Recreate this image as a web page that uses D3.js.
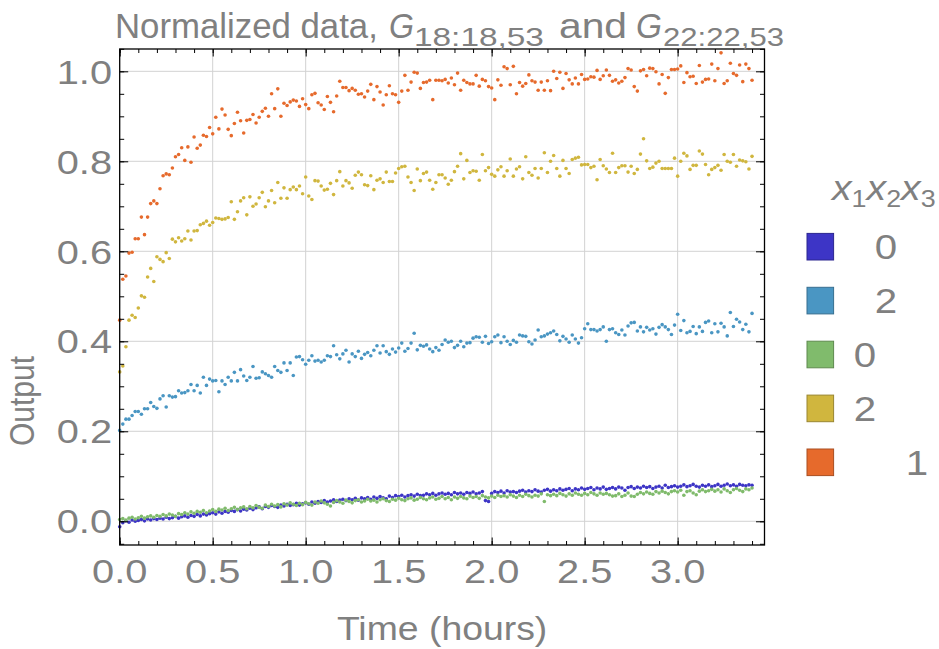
<!DOCTYPE html>
<html>
<head>
<meta charset="utf-8">
<script src="https://cdn.jsdelivr.net/npm/d3@7"></script>
<style>
  body { margin: 0; background: #ffffff; }
  text { font-family: "Liberation Sans", Arial, Helvetica, sans-serif; fill: #808080; }
</style>
</head>
<body>
<svg id="chart" width="939" height="649"></svg>
<script>
// Sample index: one reading per minute over the run
const minutes = d3.range(205);

// Normalized output of each construct, one value per minute
const indigoVals = [
  -.012,-.003,.001,-.002,.003,.000,.002,.004,.001,.005,
  .003,.006,.004,.007,.005,.009,.006,.008,.011,.007,
  .010,.012,.009,.013,.011,.015,.012,.016,.014,.017,
  .019,.016,.021,.018,.022,.020,.024,.022,.026,.023,
  .027,.025,.029,.026,.030,.032,.028,.033,.031,.035,
  .033,.031,.036,.034,.038,.035,.037,.040,.036,.039,
  .041,.038,.043,.040,.044,.042,.046,.043,.045,.048,
  .044,.047,.049,.046,.050,.048,.051,.047,.052,.050,
  .053,.049,.054,.051,.055,.052,.050,.056,.053,.057,
  .055,.058,.054,.057,.059,.056,.060,.057,.058,.061,
  .059,.062,.058,.061,.063,.060,.062,.059,.064,.061,
  .063,.060,.064,.062,.065,.061,.063,.066,.046,.044,
  .062,.066,.064,.067,.063,.068,.065,.066,.064,.067,
  .069,.065,.068,.066,.070,.067,.065,.069,.071,.067,
  .070,.068,.072,.069,.071,.073,.068,.072,.070,.074,
  .071,.073,.075,.070,.074,.072,.076,.071,.073,.075,
  .072,.076,.074,.069,.075,.077,.073,.076,.074,.078,
  .075,.077,.073,.076,.078,.074,.080,.075,.077,.079,
  .076,.078,.081,.077,.079,.082,.078,.076,.080,.078,
  .081,.077,.079,.082,.078,.080,.083,.079,.081,.078,
  .082,.080,.079,.081,.080
];
const steelVals = [
  .202,.216,.227,.227,.235,.244,.244,.238,.250,.250,
  .264,.255,.251,.272,.279,.254,.279,.276,.277,.290,
  .285,.286,.290,.304,.290,.302,.285,.320,.302,.316,
  .312,.313,.288,.312,.304,.320,.312,.331,.312,.337,
  .323,.313,.320,.344,.318,.319,.332,.328,.324,.320,
  .344,.335,.331,.352,.335,.352,.324,.365,.366,.359,
  .349,.358,.368,.356,.358,.354,.358,.368,.366,.390,
  .370,.361,.372,.380,.354,.372,.366,.378,.362,.371,
  .375,.368,.380,.390,.374,.390,.377,.371,.383,.376,
  .385,.396,.378,.384,.396,.418,.381,.391,.389,.392,
  .383,.377,.386,.380,.393,.403,.398,.400,.386,.391,
  .400,.388,.396,.397,.407,.410,.409,.398,.411,.395,
  .399,.410,.414,.397,.410,.400,.393,.402,.398,.414,
  .412,.411,.399,.394,.403,.425,.410,.412,.416,.419,
  .423,.415,.401,.411,.405,.398,.414,.405,.396,.408,
  .428,.439,.426,.426,.423,.426,.432,.400,.426,.428,
  .419,.415,.425,.414,.434,.441,.442,.423,.432,.421,
  .431,.425,.428,.416,.431,.437,.432,.426,.415,.436,
  .460,.424,.446,.419,.422,.433,.417,.432,.422,.442,
  .445,.419,.439,.421,.440,.432,.412,.464,.433,.449,
  .443,.426,.438,.421,.462
];
const greenVals = [
  .004,.006,.003,.007,.009,.005,.008,.011,.007,.010,
  .012,.009,.013,.011,.015,.012,.016,.014,.011,.017,
  .015,.019,.016,.021,.018,.022,.020,.024,.019,.023,
  .026,.022,.027,.025,.029,.024,.028,.031,.026,.030,
  .032,.028,.033,.030,.035,.031,.029,.036,.033,.038,
  .034,.037,.032,.039,.036,.041,.038,.035,.040,.037,
  .042,.039,.036,.043,.040,.045,.041,.038,.034,.042,
  .046,.043,.040,.047,.044,.041,.046,.048,.043,.045,
  .049,.045,.047,.043,.048,.050,.046,.044,.049,.047,
  .051,.048,.046,.050,.052,.047,.049,.053,.050,.048,
  .052,.054,.049,.051,.055,.050,.053,.048,.054,.051,
  .055,.052,.050,.056,.053,.055,.051,.057,.054,.052,
  .056,.053,.058,.055,.057,.054,.059,.056,.053,.058,
  .055,.060,.057,.054,.058,.056,.061,.044,.059,.057,
  .060,.057,.062,.059,.056,.061,.058,.063,.060,.058,
  .062,.059,.064,.061,.058,.063,.060,.062,.059,.056,
  .057,.061,.055,.058,.063,.056,.055,.060,.064,.061,
  .065,.062,.060,.066,.063,.067,.064,.061,.066,.068,
  .065,.069,.058,.066,.068,.063,.059,.067,.070,.066,
  .068,.071,.067,.070,.065,.072,.068,.064,.070,.073,
  .069,.066,.072,.070,.074
];
const goldVals = [
  .332,.345,.388,.447,.458,.453,.474,.501,.498,.543,
  .562,.533,.588,.582,.577,.597,.584,.627,.621,.630,
  .623,.628,.645,.625,.645,.646,.659,.662,.667,.658,
  .664,.674,.673,.671,.672,.675,.710,.671,.688,.712,
  .719,.681,.721,.700,.705,.719,.731,.699,.712,.735,
  .708,.753,.718,.741,.718,.737,.743,.737,.745,.728,
  .765,.723,.715,.757,.756,.745,.736,.738,.751,.726,
  .757,.777,.745,.757,.752,.740,.769,.776,.770,.748,
  .746,.768,.737,.758,.761,.753,.776,.755,.755,.774,
  .784,.788,.789,.765,.753,.735,.783,.757,.773,.776,
  .758,.738,.753,.770,.770,.763,.749,.758,.777,.789,
  .817,.761,.802,.775,.779,.778,.758,.815,.779,.786,
  .771,.767,.781,.788,.767,.779,.805,.767,.783,.788,
  .761,.810,.775,.769,.784,.763,.784,.819,.775,.800,
  .813,.784,.767,.802,.784,.773,.804,.807,.809,.792,
  .793,.793,.786,.789,.759,.804,.790,.783,.775,.818,
  .775,.786,.790,.790,.776,.789,.773,.782,.816,.850,
  .801,.784,.787,.796,.800,.784,.784,.784,.784,.807,
  .767,.800,.818,.812,.782,.791,.791,.823,.816,.793,
  .770,.782,.786,.791,.780,.815,.800,.798,.815,.789,
  .803,.801,.799,.783,.811
];
const orangeVals = [
  .447,.538,.545,.596,.598,.628,.628,.676,.637,.676,
  .706,.712,.706,.739,.768,.772,.770,.785,.810,.815,
  .830,.802,.832,.798,.854,.829,.836,.858,.855,.875,
  .861,.898,.872,.916,.903,.871,.857,.884,.909,.890,
  .863,.891,.893,.904,.885,.898,.911,.918,.900,.950,
  .917,.961,.900,.929,.924,.932,.936,.934,.922,.939,
  .926,.917,.948,.951,.930,.925,.915,.944,.931,.910,
  .945,.978,.964,.964,.957,.962,.958,.949,.950,.943,
  .956,.971,.937,.966,.954,.925,.948,.968,.950,.948,
  .931,.956,.991,.958,.976,.998,.996,.962,.975,.976,
  .980,.937,.980,.980,.979,.982,.974,.985,.970,.996,
  .958,.980,.975,.972,.972,.991,.967,.982,.979,.966,
  .963,.937,.981,.969,1.010,1.006,.970,1.011,.950,.975,
  .967,.973,.992,.979,.976,.958,.976,.958,.979,.957,
  1.000,.984,.998,.962,.995,.981,.972,.985,.972,.993,
  .982,.983,.988,.987,1.002,.982,.990,1.003,.991,.978,
  .981,.974,.978,.986,1.006,1.003,.966,.956,1.001,1.004,
  .990,1.007,1.006,.999,.972,.993,.951,.986,1.004,1.004,
  1.005,1.012,.975,.997,.988,.989,.973,1.013,.976,.982,
  .983,1.016,.979,1.006,1.041,.973,.979,1.018,.995,.991,
  1.014,.977,1.016,1.006,.980
];

const seriesValues = [indigoVals, steelVals, greenVals, goldVals, orangeVals];
const seriesColors = ["#3d35c6", "#4a96c3", "#80bb6c", "#d0b63e", "#e66a2c"];
const seriesBorders = ["#2c2690", "#376f90", "#5e8a4f", "#998630", "#a94e21"];
const legendLabels = ["0", "2", "0", "2", "1"];

const xTickLabels = [0, 0.5, 1.0, 1.5, 2.0, 2.5, 3.0];
const yTickLabels = [0.0, 0.2, 0.4, 0.6, 0.8, 1.0];

const titleMain = "Normalized data,";
const titleSub1 = "18:18,53";
const titleMid = "and";
const titleSub2 = "22:22,53";
const xAxisTitle = "Time (hours)";
const yAxisTitle = "Output";

// ---- layout ----
const svg = d3.select("#chart");
const pL = 119.7, pR = 764.5, pT = 49, pB = 545;
const textStretch = 1.17;

const x = d3.scaleLinear().domain([0, 3.467]).range([pL, pR]);
const y = d3.scaleLinear().domain([-0.0527, 1.0496]).range([pB, pT]);

svg.append("rect").attr("width", 939).attr("height", 649).attr("fill", "#fff");

// grid
const grid = svg.append("g").attr("stroke", "#d2d2d2").attr("stroke-width", 1);
grid.selectAll("line.gx").data(xTickLabels.slice(1)).join("line")
  .attr("x1", d => x(d)).attr("x2", d => x(d)).attr("y1", pT).attr("y2", pB);
grid.selectAll("line.gy").data(yTickLabels).join("line")
  .attr("y1", d => y(d)).attr("y2", d => y(d)).attr("x1", pL).attr("x2", pR);

// points
const plot = svg.append("g");
seriesValues.forEach((vals, i) => {
  plot.append("g").attr("fill", seriesColors[i])
    .selectAll("circle").data(minutes).join("circle")
    .attr("cx", m => x(m / 60))
    .attr("cy", m => y(vals[m]))
    .attr("r", 1.8);
});

// frame ticks (inward, mirrored on all four sides)
const xMinor = d3.range(0, 3.45, 0.1);
const yMinor = d3.range(-0.05, 1.051, 0.05);
function styleAxis(g) {
  g.select(".domain").remove();
  g.selectAll(".tick line").attr("stroke", "#000").attr("stroke-width", 1);
  g.selectAll(".tick text").remove();
}
svg.append("g").attr("transform", `translate(0,${pB})`)
  .call(d3.axisBottom(x).tickValues(xMinor).tickSize(-4)).call(styleAxis);
svg.append("g").attr("transform", `translate(0,${pB})`)
  .call(d3.axisBottom(x).tickValues(xTickLabels).tickSize(-7.5)).call(styleAxis);
svg.append("g").attr("transform", `translate(0,${pT})`)
  .call(d3.axisTop(x).tickValues(xMinor).tickSize(-4)).call(styleAxis);
svg.append("g").attr("transform", `translate(0,${pT})`)
  .call(d3.axisTop(x).tickValues(xTickLabels).tickSize(-7.5)).call(styleAxis);
svg.append("g").attr("transform", `translate(${pL},0)`)
  .call(d3.axisLeft(y).tickValues(yMinor).tickSize(-4.5)).call(styleAxis);
svg.append("g").attr("transform", `translate(${pL},0)`)
  .call(d3.axisLeft(y).tickValues(yTickLabels).tickSize(-8.5)).call(styleAxis);
svg.append("g").attr("transform", `translate(${pR},0)`)
  .call(d3.axisRight(y).tickValues(yMinor).tickSize(-4.5)).call(styleAxis);
svg.append("g").attr("transform", `translate(${pR},0)`)
  .call(d3.axisRight(y).tickValues(yTickLabels).tickSize(-8.5)).call(styleAxis);

svg.append("rect").attr("x", pL).attr("y", pT)
  .attr("width", pR - pL).attr("height", pB - pT)
  .attr("fill", "none").attr("stroke", "#000").attr("stroke-width", 1.3);

// tick labels
const fmt = d3.format(".1f");
svg.append("g").selectAll("text").data(xTickLabels).join("text")
  .attr("transform", d => `translate(${x(d)},583) scale(${textStretch},1)`)
  .attr("text-anchor", "middle").attr("font-size", 34)
  .text(d => fmt(d));
svg.append("g").selectAll("text").data(yTickLabels).join("text")
  .attr("transform", d => `translate(112,${y(d) + 12.2}) scale(${textStretch},1)`)
  .attr("text-anchor", "end").attr("font-size", 34)
  .text(d => fmt(d));

// axis titles
svg.append("text")
  .attr("transform", `translate(${(pL + pR) / 2},640) scale(1.15,1)`)
  .attr("text-anchor", "middle").attr("font-size", 32.5)
  .text(xAxisTitle);
svg.append("text")
  .attr("transform", `translate(34,401) rotate(-90) scale(1,1.15)`)
  .attr("text-anchor", "middle").attr("font-size", 30)
  .text(yAxisTitle);

// plot title: each run is placed in its own box and stretched to fill it
function fittedRun(str, x0, x1, baseline, size, italic) {
  const t = svg.append("text")
    .attr("font-size", size)
    .attr("font-style", italic ? "italic" : "normal")
    .text(str);
  const w = t.node().getComputedTextLength();
  t.attr("transform", `translate(${x0},${baseline}) scale(${(x1 - x0) / w},1)`);
}
fittedRun(titleMain, 115, 378, 38, 35, false);
fittedRun("G", 389, 414, 38, 35, true);
fittedRun(titleSub1, 414, 544, 46, 26, false);
fittedRun(titleMid, 559, 627, 38, 35, false);
fittedRun("G", 636, 662, 38, 35, true);
fittedRun(titleSub2, 663, 784, 46, 26, false);

// legend
const legendTop = 246.7, legendStep = 53.9;
const legendLabelX = [886, 886, 865, 865, 917];
const lt = svg.append("text")
  .attr("transform", `translate(832,200) scale(1.12,1)`)
  .attr("font-size", 35);
["1", "2", "3"].forEach((s, i) => {
  lt.append("tspan").attr("font-style", "italic").attr("dy", i === 0 ? 0 : -7).text("x");
  lt.append("tspan").attr("font-size", 24).attr("dy", 7).text(s);
});
const legend = svg.append("g");
seriesColors.forEach((c, i) => {
  const cy = legendTop + i * legendStep;
  legend.append("rect")
    .attr("x", 807).attr("y", cy - 13.3).attr("width", 26.6).attr("height", 26.6)
    .attr("fill", c).attr("stroke", seriesBorders[i]).attr("stroke-width", 1);
  legend.append("text")
    .attr("transform", `translate(${legendLabelX[i]},${cy + 12.5}) scale(1.15,1)`)
    .attr("text-anchor", "middle").attr("font-size", 35)
    .text(legendLabels[i]);
});
</script>
</body>
</html>
